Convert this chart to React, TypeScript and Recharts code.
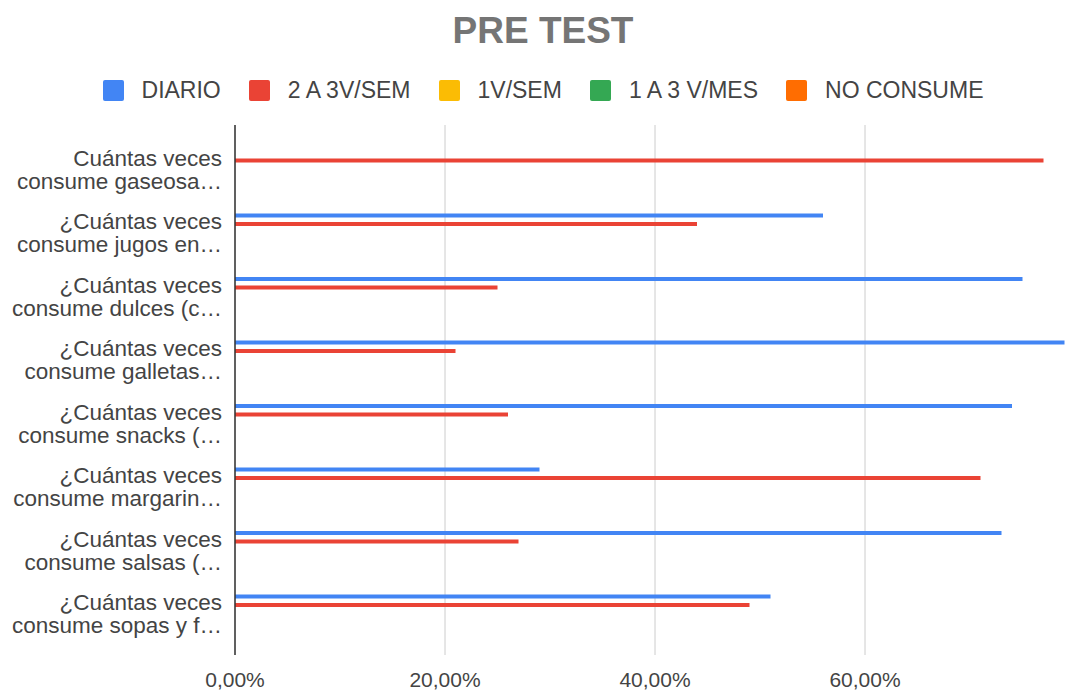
import { BarChart, Bar, XAxis, YAxis, CartesianGrid } from 'recharts';

const categories = [
  'Cuántas veces consume gaseosa…',
  '¿Cuántas veces consume jugos en…',
  '¿Cuántas veces consume dulces (c…',
  '¿Cuántas veces consume galletas…',
  '¿Cuántas veces consume snacks (…',
  '¿Cuántas veces consume margarin…',
  '¿Cuántas veces consume salsas (…',
  '¿Cuántas veces consume sopas y f…',
];

const diario = [0, 0.56, 0.75, 0.79, 0.74, 0.29, 0.73, 0.51];
const dosTresSem = [0.77, 0.44, 0.25, 0.21, 0.26, 0.71, 0.27, 0.49];
const unaSem = [0, 0, 0, 0, 0, 0, 0, 0];
const unoTresMes = [0, 0, 0, 0, 0, 0, 0, 0];
const noConsume = [0, 0, 0, 0, 0, 0, 0, 0];

const xTicks = [0, 0.2, 0.4, 0.6];

const series = [
  { key: 'diario', name: 'DIARIO', color: '#4285f4' },
  { key: 'dosTres', name: '2 A 3V/SEM', color: '#ea4335' },
  { key: 'unaSem', name: '1V/SEM', color: '#fbbc04' },
  { key: 'unoTres', name: '1 A 3 V/MES', color: '#34a853' },
  { key: 'noConsume', name: 'NO CONSUME', color: '#ff6d01' },
];

const data = categories.map((c, i) => ({
  label: c,
  diario: diario[i],
  dosTres: dosTresSem[i],
  unaSem: unaSem[i],
  unoTres: unoTresMes[i],
  noConsume: noConsume[i],
}));

const FONT = 'Arial, "Liberation Sans", sans-serif';

// porcentaje con coma decimal
const fmtPct = (v: number) => (v * 100).toFixed(2).replace('.', ',') + '%';

function YTick({ x, y, payload }: any) {
  const text: string = payload.value;
  const cut = text.indexOf('veces') + 5;
  const l1 = text.slice(0, cut);
  const l2 = text.slice(cut + 1);
  return (
    <text x={x} textAnchor="end" fill="#444" fontSize={22.5} fontFamily={FONT}>
      <tspan x={x} y={y - 3}>{l1}</tspan>
      <tspan x={x} y={y + 20}>{l2}</tspan>
    </text>
  );
}

function XTick({ x, y, payload }: any) {
  return (
    <text x={x} y={y + 32} textAnchor="middle" fill="#444" fontSize={21} fontFamily={FONT}>
      {fmtPct(payload.value)}
    </text>
  );
}

export default function App() {
  return (
    <div
      style={{
        position: 'absolute',
        left: 0,
        top: 0,
        width: 1068,
        height: 693,
        overflow: 'hidden',
        background: '#fff',
        fontFamily: FONT,
      }}
    >
      <div
        style={{
          position: 'absolute',
          top: 12,
          left: 0,
          width: 1086,
          textAlign: 'center',
          fontSize: 37,
          lineHeight: '37px',
          fontWeight: 'bold',
          color: '#757575',
        }}
      >
        PRE TEST
      </div>
      <div
        style={{
          position: 'absolute',
          top: 79,
          left: 0,
          width: 1086,
          display: 'flex',
          justifyContent: 'center',
          alignItems: 'center',
          fontSize: 23,
          lineHeight: '22px',
          color: '#444',
        }}
      >
        {series.map((s, i) => (
          <div
            key={s.key}
            style={{ display: 'flex', alignItems: 'center', marginRight: i < series.length - 1 ? 28 : 0 }}
          >
            <span style={{ width: 21, height: 21, background: s.color, borderRadius: 2, marginRight: 18 }} />
            <span>{s.name}</span>
          </div>
        ))}
      </div>
      <div style={{ position: 'absolute', left: 0, top: 0 }}>
        <BarChart
          layout="vertical"
          width={1090}
          height={693}
          data={data}
          margin={{ top: 125, right: 15, bottom: 0, left: 0 }}
          barSize={4}
          barGap={4.5}
        >
          <CartesianGrid horizontal={false} stroke="#cccccc" />
          <XAxis
            type="number"
            domain={[0, 0.8]}
            ticks={xTicks}
            axisLine={false}
            tickLine={false}
            tickSize={0}
            tickMargin={0}
            height={38}
            tick={<XTick />}
          />
          <YAxis
            type="category"
            dataKey="label"
            width={235}
            axisLine={{ stroke: '#333', strokeWidth: 1.5 }}
            tickLine={false}
            tickSize={0}
            tickMargin={13}
            padding={{ top: 12, bottom: 10 }}
            interval={0}
            tick={<YTick />}
          />
          {series.map((s) => (
            <Bar key={s.key} dataKey={s.key} name={s.name} fill={s.color} isAnimationActive={false} />
          ))}
        </BarChart>
      </div>
    </div>
  );
}
